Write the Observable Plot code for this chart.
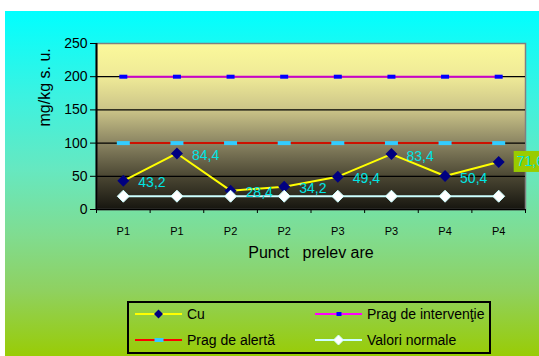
<!DOCTYPE html>
<html><head><meta charset="utf-8">
<script src="https://cdn.jsdelivr.net/npm/d3@7"></script>
<script src="https://cdn.jsdelivr.net/npm/@observablehq/plot@0.6"></script>
<style>
body{margin:0;background:#fff;}
#wrap{position:relative;width:539px;height:356px;overflow:hidden;background:#fff;font-family:"Liberation Sans",Arial,sans-serif;}
#bg{position:absolute;left:5px;top:11px;right:0;bottom:0;
 background:linear-gradient(to bottom,#00FFFF 0%,#3DF2E0 25%,#66E8C0 46%,#80DC90 65%,#8FD160 81%,#99CC05 100%);}
#chart{position:absolute;left:0;top:0;}
#legend{position:absolute;left:127px;top:301px;width:360px;height:49px;border:2px solid #000;font-size:14px;color:#000;}
#legend .it{position:absolute;}
#legend .it svg{position:absolute;left:0;top:0;}
#legend .it span{position:absolute;top:-8px;line-height:16px;white-space:nowrap;}
</style></head>
<body>
<div id="wrap"><div id="bg"></div><div id="chart"></div><div id="legend"></div></div>
<script>
// ---- data ----
const categories = ["P1","P1","P2","P2","P3","P3","P4","P4"];
const cu = [43.2, 84.4, 28.4, 34.2, 49.4, 83.4, 50.4, 71.6];
const pragInterventie = [200, 200, 200, 200, 200, 200, 200, 200];
const pragAlerta = [100, 100, 100, 100, 100, 100, 100, 100];
const valoriNormale = [20, 20, 20, 20, 20, 20, 20, 20];
const yTicks = [0, 50, 100, 150, 200, 250];
const seriesNames = ["Cu", "Prag de intervenţie", "Prag de alertă", "Valori normale"];
const yTitle = "mg/kg s. u.";
const xTitle = "Punct\u00a0\u00a0 prelev are";

// ---- helpers ----
const idx = categories.map((_, i) => i);
const fmt = v => v.toFixed(1).replace(".", ",");
const rectSym = (w, h) => ({draw(ctx){ctx.moveTo(-w/2,-h/2);ctx.lineTo(w/2,-h/2);ctx.lineTo(w/2,h/2);ctx.lineTo(-w/2,h/2);ctx.closePath();}});
const rhombus = r => ({draw(ctx){ctx.moveTo(0,-r);ctx.lineTo(r,0);ctx.lineTo(0,r);ctx.lineTo(-r,0);ctx.closePath();}});
const xc = i => i + 0.5;

function series(values, lineColor, sym, fill, stroke) {
  return [
    Plot.line(idx, {x: xc, y: i => values[i], stroke: lineColor, strokeWidth: 2}),
    Plot.dot(idx, {x: xc, y: i => values[i], symbol: sym, fill: fill, stroke: stroke || "none", strokeWidth: 1})
  ];
}

const chart = Plot.plot({
  width: 539, height: 356,
  marginLeft: 96, marginRight: 14, marginTop: 43, marginBottom: 147,
  style: {background: "transparent", fontFamily: "Liberation Sans, Arial, sans-serif", fontSize: "14px", color: "#000", overflow: "visible"},
  x: {type: "linear", domain: [0, categories.length], label: null},
  y: {domain: [0, 250], label: null},
  marks: [
    Plot.frame({fill: "url(#plotbg)", stroke: "#808080", strokeWidth: 1.5}),
    Plot.gridY(yTicks.filter(t => t > 0 && t < 250), {stroke: "#000", strokeOpacity: 1, strokeWidth: 1.3}),
    ...series(cu, "#FFFF00", rhombus(6), "#000080"),
    ...series(pragInterventie, "#CC00CC", rectSym(8, 4), "#0000FF"),
    ...series(pragAlerta, "#CC1100", rectSym(13, 4), "#33CCFF"),
    ...series(valoriNormale, "#CCFFFF", rhombus(6), "#FFFFFF", "#CCFFFF"),
    Plot.text(idx.slice(0, -1), {x: xc, y: i => cu[i], text: i => fmt(cu[i]), dx: 15, dy: 2, textAnchor: "start", fill: "#00E5E5", fontSize: 14}),
    Plot.text(idx.slice(-1), {x: xc, y: i => cu[i], text: i => fmt(cu[i]), dx: 18, dy: 0, textAnchor: "start", fill: "#00E5E5", fontSize: 14}),
    Plot.axisY({ticks: yTicks, tickSize: 6, tickPadding: 3, fontSize: 14, label: null, stroke: "#000"}),
    Plot.axisX({ticks: d3.range(0, categories.length + 1), tickSize: 4, tickFormat: () => "", label: null, stroke: "#000"}),
    Plot.axisX({ticks: idx.map(xc), tickSize: 0, tickPadding: 18, tickFormat: d => categories[Math.floor(d)], fontSize: 11, label: null}),
    Plot.ruleX([0], {stroke: "#000", strokeWidth: 2}),
    Plot.ruleY([0], {stroke: "#000", strokeWidth: 1.5}),
    Plot.text([yTitle], {frameAnchor: "left", dx: -52, rotate: -90, fontSize: 16, fill: "#000"}),
    Plot.text([xTitle], {frameAnchor: "bottom", dy: 48, fontSize: 16, fill: "#000"})
  ]
});
document.getElementById("chart").appendChild(chart);

// gradient for plot area
const svg = d3.select(chart);
const grad = svg.insert("defs", ":first-child").append("linearGradient")
  .attr("id", "plotbg").attr("x1", 0).attr("y1", 0).attr("x2", 0).attr("y2", 1);
[[0, "#FBF99B"], [0.2, "#EFEA97"], [0.4, "#CBC488"], [0.6, "#8A8462"], [0.8, "#4B4733"], [1, "#16150F"]]
  .forEach(([o, c]) => grad.append("stop").attr("offset", o).attr("stop-color", c));

// background box behind the last label
const lastLabel = fmt(cu[cu.length - 1]);
const lastText = Array.from(chart.querySelectorAll("text")).find(t => t.textContent === lastLabel);
if (lastText) {
  const bb = lastText.getBBox();
  const r = document.createElementNS("http://www.w3.org/2000/svg", "rect");
  r.setAttribute("x", bb.x - 3);
  r.setAttribute("y", bb.y + bb.height / 2 - 10.5);
  r.setAttribute("width", bb.width + 8);
  r.setAttribute("height", 21);
  r.setAttribute("fill", "#99CC00");
  const tr = lastText.getAttribute("transform");
  if (tr) r.setAttribute("transform", tr);
  lastText.parentNode.insertBefore(r, lastText);
}

// legend
const legendItems = [
  {name: seriesNames[0], line: "#FFFF00", left: 6, top: 11, mk: '<path d="M23.5,1.5 L28,6 L23.5,10.5 L19,6Z" fill="#000080"/>'},
  {name: seriesNames[1], line: "#FF00FF", left: 186, top: 11, mk: '<rect x="21.5" y="4" width="5" height="4" fill="#0000FF"/>'},
  {name: seriesNames[2], line: "#FF0000", left: 6, top: 37, mk: '<rect x="19.5" y="4" width="9" height="4" fill="#33CCFF"/>'},
  {name: seriesNames[3], line: "#CCFFFF", left: 186, top: 37, mk: '<path d="M23.5,1 L28.5,6 L23.5,11 L18.5,6Z" fill="#FFFFFF" stroke="#CCFFFF"/>'}
];
const leg = document.getElementById("legend");
legendItems.forEach(it => {
  const d = document.createElement("div");
  d.className = "it";
  d.style.left = it.left + "px";
  d.style.top = (it.top - 6) + "px";
  d.innerHTML = `<svg width="48" height="12"><line x1="0" x2="47" y1="6" y2="6" stroke="${it.line}" stroke-width="2"/>${it.mk}</svg><span style="left:52px;top:-2px">${it.name}</span>`;
  leg.appendChild(d);
});
</script>
</body></html>
